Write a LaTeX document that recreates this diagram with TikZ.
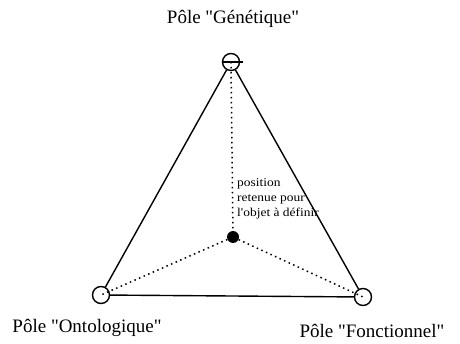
\documentclass[tikz,border=0pt]{standalone}
\usepackage{fontspec}
\setmainfont{Liberation Serif}[Ligatures=TeXReset]
\newfontfamily\notefont{Liberation Serif}[Ligatures=TeXReset,FakeStretch=1.12]
\usepackage{tikz}

\begin{document}
\begin{tikzpicture}[x=1pt,y=-1pt,
  pole/.style={draw,circle,line width=1.4pt,minimum size=17pt,inner sep=0pt},
  edge/.style={line width=1.4pt},
  spoke/.style={line width=1.5pt,dash pattern=on 1.5pt off 3.5pt},
  lbl/.style={font=\fontsize{19}{21}\selectfont},
  note/.style={font=\notefont\fontsize{12}{15}\selectfont,align=left,inner sep=0pt}]
  \useasboundingbox (0,0) rectangle (460,344);
  \node[pole] (gen) at (231,62) {};
  \node[pole] (ont) at (101,295) {};
  \node[pole] (fon) at (363,297) {};
  \node[circle,fill,minimum size=12pt,inner sep=0pt] (obj) at (233,237) {};
  % triangle
  \draw[edge] (gen) -- (ont) -- (fon) -- (gen);
  \draw[edge] (gen.west) -- ([xshift=3pt]gen.east);
  % dotted spokes
  \draw[spoke] (gen.center) -- (obj);
  \draw[spoke] (obj) -- (ont.center);
  \draw[spoke] (obj) -- (fon.center);
  \node[lbl] at (233,19) {Pôle "Génétique"};
  \node[lbl] at (87,328) {Pôle "Ontologique"};
  \node[lbl] at (372,331) {Pôle "Fonctionnel"};
  \node[note,anchor=north west] at (237,178) {position\\retenue pour\\l'objet à définir};
\end{tikzpicture}
\end{document}
